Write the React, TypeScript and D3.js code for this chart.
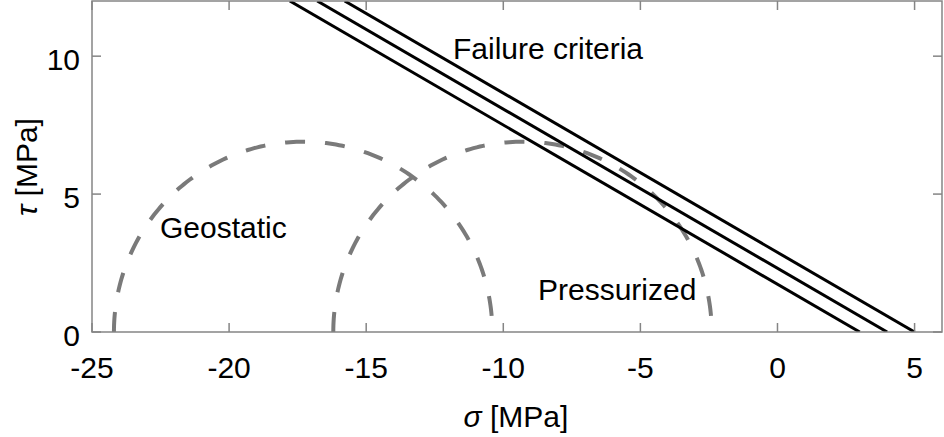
import React from "react";
import * as d3 from "d3";

const xTicks = [-25, -20, -15, -10, -5, 0, 5];
const yTicks = [0, 5, 10];
const circleNames = ["Geostatic", "Pressurized"];
const sigmaMin = [-24.2, -16.2];
const sigmaMax = [-10.4, -2.4];
const failureIntercepts = [3, 4, 5];
const frictionAngleDeg = 30;

const W = 944;
const H = 437;
const FONT = "'Liberation Sans', Arial, Helvetica, sans-serif";

export default function App() {
  const x = d3.scaleLinear().domain([-25, 6]).range([92, 942]);
  const y = d3.scaleLinear().domain([0, 12]).range([332, 1]);
  const tanPhi = Math.tan((frictionAngleDeg * Math.PI) / 180);

  const angles = d3.range(0, 181, 1).map((d) => (d * Math.PI) / 180);
  const line = d3
    .line<[number, number]>()
    .x((d) => x(d[0]))
    .y((d) => y(d[1]));

  const circles = sigmaMin.map((s3, i) => {
    const c = (s3 + sigmaMax[i]) / 2;
    const r = (sigmaMax[i] - s3) / 2;
    const pts: [number, number][] = angles.map((a) => [c - r * Math.cos(a), r * Math.sin(a)]);
    return { name: circleNames[i], path: line(pts) };
  });

  const failure = failureIntercepts.map((c) => {
    const sTop = c - 12 / tanPhi;
    const pts: [number, number][] = [
      [sTop, 12],
      [c, 0],
    ];
    return line(pts);
  });

  const axisColor = "#858585";
  const tickLen = 9;
  const [x0, x1] = x.range();
  const [yb, yt] = y.range();

  return (
    <svg width={W} height={H} style={{ position: "absolute", left: 0, top: 0, background: "#fff" }}>
      <defs>
        <clipPath id="plot">
          <rect x={x0} y={yt} width={x1 - x0} height={yb - yt} />
        </clipPath>
      </defs>
      <rect x={0} y={0} width={W} height={H} fill="#fff" />
      <g clipPath="url(#plot)">
        {circles.map((c) => (
          <path key={c.name} d={c.path || ""} fill="none" stroke="#7a7a7a" strokeWidth={4} strokeDasharray="20 20" />
        ))}
        {failure.map((d, i) => (
          <path key={i} d={d || ""} fill="none" stroke="#000" strokeWidth={3} />
        ))}
      </g>
      {/* box */}
      <rect x={x0} y={yt} width={x1 - x0} height={yb - yt} fill="none" stroke={axisColor} strokeWidth={1.5} />
      {/* ticks */}
      {xTicks.map((t) => (
        <g key={"xt" + t}>
          <line x1={x(t)} x2={x(t)} y1={yb} y2={yb - tickLen} stroke={axisColor} strokeWidth={1.5} />
          <line x1={x(t)} x2={x(t)} y1={yt} y2={yt + tickLen} stroke={axisColor} strokeWidth={1.5} />
          <text x={x(t)} y={378} textAnchor="middle" fontFamily={FONT} fontSize={30} fill="#000">
            {t}
          </text>
        </g>
      ))}
      {yTicks.map((t) => (
        <g key={"yt" + t}>
          <line x1={x0} x2={x0 + tickLen} y1={y(t)} y2={y(t)} stroke={axisColor} strokeWidth={1.5} />
          <line x1={x1} x2={x1 - tickLen} y1={y(t)} y2={y(t)} stroke={axisColor} strokeWidth={1.5} />
          <text x={80} y={y(t) + 14} textAnchor="end" fontFamily={FONT} fontSize={30} fill="#000">
            {t}
          </text>
        </g>
      ))}
      {/* annotations */}
      <text x={160} y={238} fontFamily={FONT} fontSize={30} fill="#000">Geostatic</text>
      <text x={538} y={300} fontFamily={FONT} fontSize={30} fill="#000">Pressurized</text>
      <text x={453} y={59} fontFamily={FONT} fontSize={30} fill="#000">Failure criteria</text>
      {/* axis labels */}
      <text x={516} y={427} textAnchor="middle" fontFamily={FONT} fontSize={30} fill="#000">
        <tspan fontStyle="italic">σ</tspan> [MPa]
      </text>
      <text
        transform={`translate(37,167) rotate(-90)`}
        textAnchor="middle"
        fontFamily={FONT}
        fontSize={30}
        fill="#000"
      >
        <tspan fontStyle="italic">τ</tspan> [MPa]
      </text>
    </svg>
  );
}
